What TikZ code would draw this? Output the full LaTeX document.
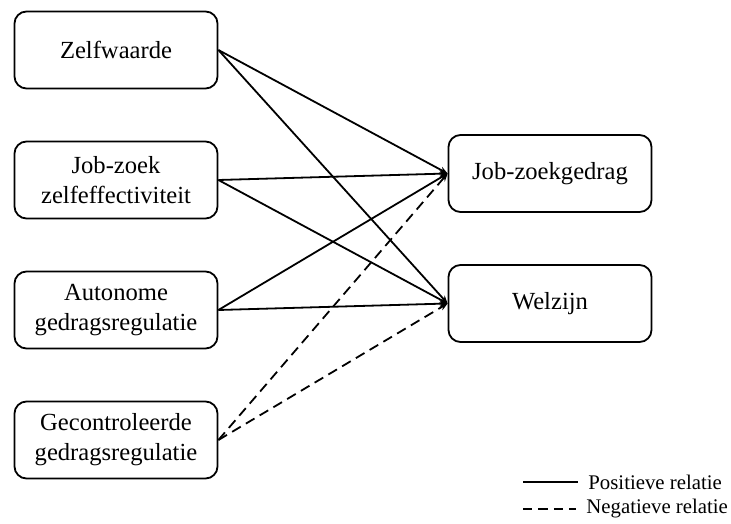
\documentclass[tikz,border=0pt]{standalone}
\usepackage{fontspec}
\setmainfont{Liberation Serif}
\usetikzlibrary{arrows.meta}

\tikzset{
  box/.style={draw,line width=0.9pt,rounded corners=6pt,minimum width=101.5pt,
    minimum height=38.5pt,align=center,font=\fontsize{12.3}{15}\selectfont},
  posrel/.style={line width=0.9pt,-{Stealth[length=4pt,width=3.2pt]}},
  negrel/.style={posrel,dash pattern=on 5pt off 3pt},
  legend/.style={anchor=west,inner sep=5pt,font=\fontsize{10.4}{12}\selectfont}
}

\begin{document}
\begin{tikzpicture}[node distance=65pt,x=0.5pt,y=-0.5pt]
\useasboundingbox (0,0) rectangle (731,523);
\node[box] (zw) at (116,50) {Zelfwaarde};
\node[box] (jz) [below of=zw] {Job-zoek\\zelfeffectiviteit};
\node[box] (ag) [below of=jz] {Autonome\\gedragsregulatie};
\node[box] (gg) [below of=ag] {Gecontroleerde\\gedragsregulatie};
\node[box] (jg) at (550,173.5) {Job-zoekgedrag};
\node[box] (wz) [below of=jg] {Welzijn};
\draw[posrel] (zw.east) -- (jg.west);
\draw[posrel] (zw.east) -- (wz.west);
\draw[posrel] (jz.east) -- (jg.west);
\draw[posrel] (jz.east) -- (wz.west);
\draw[posrel] (ag.east) -- (jg.west);
\draw[posrel] (ag.east) -- (wz.west);
\draw[negrel] (gg.east) -- (jg.west);
\draw[negrel] (gg.east) -- (wz.west);
% legenda
\node[legend] (lp) at (578,482) {Positieve relatie};
\node[legend] (ln) at (576,509) {Negatieve relatie};
\coordinate (lpa) at (523,482);
\coordinate (lna) at (523,509);
\draw[line width=0.9pt] (lpa) -- (lp.west);
\draw[line width=0.9pt,dash pattern=on 4.7pt off 3pt] (lna) -- (ln.west);
\end{tikzpicture}
\end{document}
